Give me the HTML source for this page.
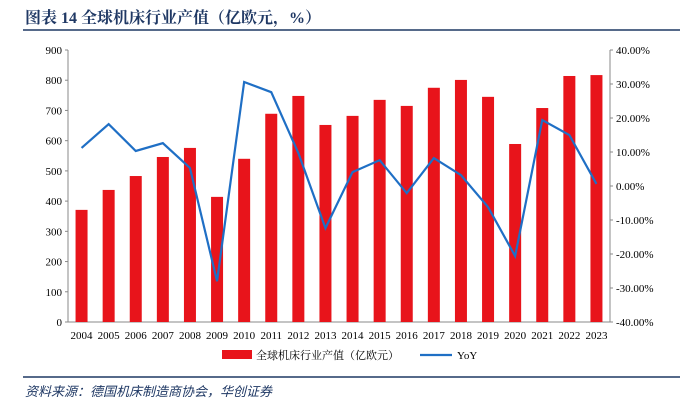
<!DOCTYPE html>
<html><head><meta charset="utf-8"><style>
body{margin:0;background:#fff;width:685px;height:407px;overflow:hidden;font-family:"Liberation Serif","Noto Serif CJK SC",serif}
</style></head><body>
<svg id="c" width="685" height="407" xmlns="http://www.w3.org/2000/svg">
<text x="25" y="23" font-size="16" font-weight="bold" fill="#1f3864" font-family="Liberation Serif,Noto Serif CJK SC,serif">图表 14  全球机床行业产值（亿欧元，%）</text>
<line x1="23" y1="30" x2="680" y2="30" stroke="#1f3864" stroke-width="1.5"/>
<line x1="23" y1="377" x2="680" y2="377" stroke="#1f3864" stroke-width="1.5"/>
<text x="25" y="396" font-size="13" font-style="italic" fill="#1f3864" font-family="Liberation Sans,Noto Sans CJK SC,sans-serif">资料来源：德国机床制造商协会，华创证券</text>
<g id="g"></g>
</svg>
<script>
const years=["2004","2005","2006","2007","2008","2009","2010","2011","2012","2013","2014","2015","2016","2017","2018","2019","2020","2021","2022","2023"];
const output=[371,437,483,546,576,414,540,689,748,652,682,735,715,775,801,745,589,708,814,817];
const yoy=[11.2,18.2,10.3,12.6,5.3,-28,30.6,27.6,9.7,-12.4,4.1,7.6,-2.1,8.2,3.2,-6.2,-20.6,19.4,15,0.6];
const leftTicks=[0,100,200,300,400,500,600,700,800,900];
const rightTicks=[-40,-30,-20,-10,0,10,20,30,40];
const NS="http://www.w3.org/2000/svg",g=document.getElementById('g');
const L=68,R=610,T=50,B=322,bw=(R-L)/years.length;
const xc=i=>L+bw*(i+0.5), yl=v=>B-(v/900)*(B-T), yr=v=>B-((v+40)/80)*(B-T);
function mk(t,a,p){const e=document.createElementNS(NS,t);for(const k in a)e.setAttribute(k,a[k]);(p||g).appendChild(e);return e;}
let e;
e=mk('line',{x1:L,y1:T,x2:L,y2:B,stroke:'#888'});


e=mk('line',{x1:R,y1:T,x2:R,y2:B,stroke:'#888'});


e=mk('line',{x1:L,y1:B,x2:R,y2:B,stroke:'#888'});


leftTicks.forEach(v=>{e=mk('text',{x:L-6,y:yl(v)+4,'font-size':11,'text-anchor':'end'});e.textContent=v;


e=mk('line',{x1:L-3,y1:yl(v),x2:L,y2:yl(v),stroke:'#888'});

});
rightTicks.forEach(v=>{e=mk('text',{x:R+6,y:yr(v)+4,'font-size':11});e.textContent=v.toFixed(2)+'%';


e=mk('line',{x1:R,y1:yr(v),x2:R+3,y2:yr(v),stroke:'#888'});

});
years.forEach((y,i)=>{e=mk('text',{x:xc(i),y:B+17,'font-size':11,'text-anchor':'middle'});e.textContent=y;

});
output.forEach((v,i)=>{e=mk('rect',{x:xc(i)-6,y:yl(v),width:12,height:B-yl(v),fill:'#e8141b'});

});
e=mk('polyline',{points:yoy.map((v,i)=>xc(i)+','+yr(v)).join(' '),fill:'none',stroke:'#1f6fc5','stroke-width':2.2});


e=mk('rect',{x:222,y:350,width:30,height:9,fill:'#e8141b'});


e=mk('text',{x:256,y:359,'font-size':11,'font-family':'Liberation Serif,Noto Serif CJK SC,serif'});e.textContent='全球机床行业产值（亿欧元）';


e=mk('line',{x1:420,y1:355,x2:452,y2:355,stroke:'#1f6fc5','stroke-width':2.2});


e=mk('text',{x:457,y:359,'font-size':11});e.textContent='YoY';


</script>
</body></html>
